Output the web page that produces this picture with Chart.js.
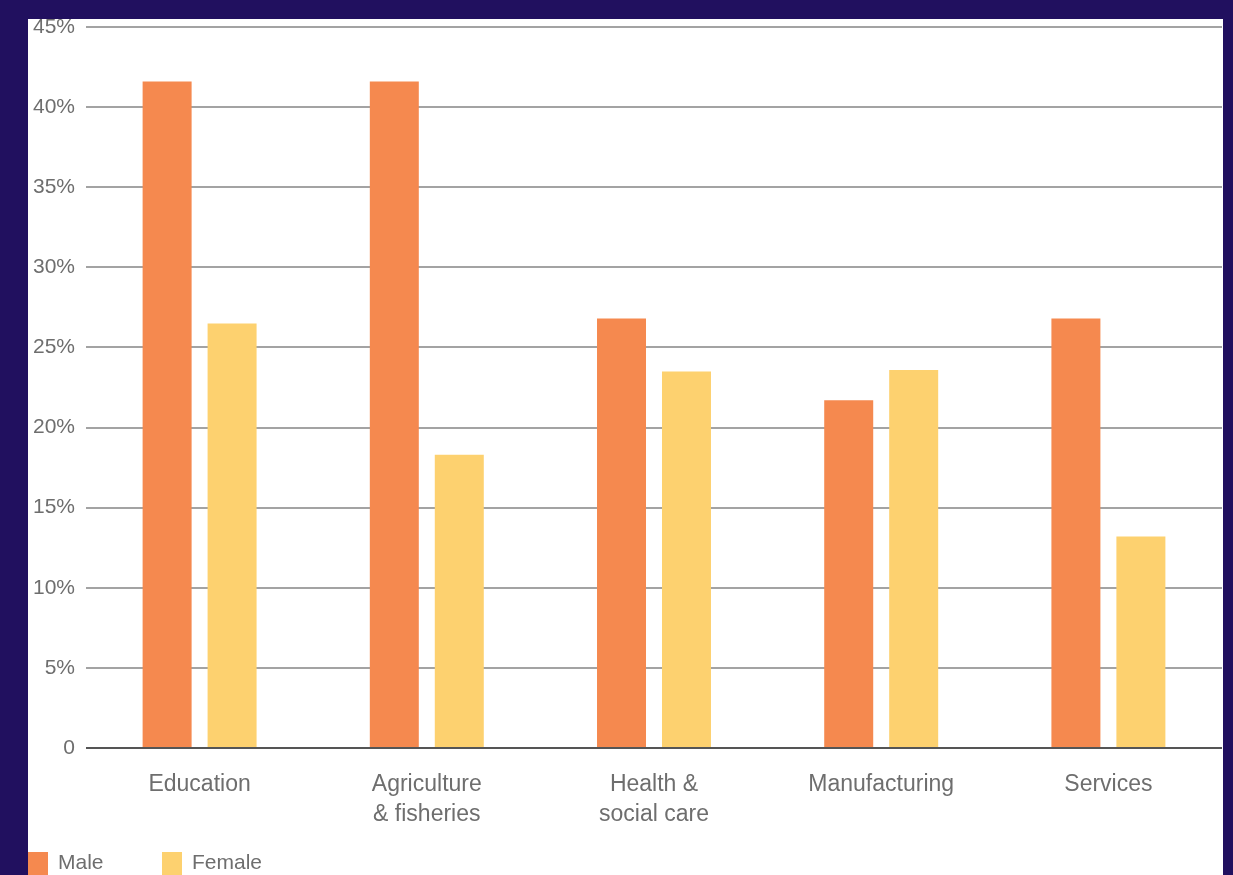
<!DOCTYPE html>
<html>
<head>
<meta charset="utf-8">
<script src="https://cdn.jsdelivr.net/npm/chart.js@4"></script>
<style>
  html, body { margin: 0; padding: 0; }
  body { width: 1233px; height: 875px; background: #21105f; position: relative; overflow: hidden; }
  #box { position: absolute; left: 28px; top: 19px; width: 1195px; height: 856px; background: #ffffff; }
</style>
</head>
<body>
<div id="box"><canvas id="chartSettori"></canvas></div>
<script>
// categorie e valori (%)
var settori = ['Education', ['Agriculture', '& fisheries'], ['Health &', 'social care'], 'Manufacturing', 'Services'];
var datiMaschi = [41.6, 41.6, 26.8, 21.7, 26.8];
var datiFemmine = [26.5, 18.3, 23.5, 23.6, 13.2];
var tickY = [0, 5, 10, 15, 20, 25, 30, 35, 40, 45];

var coloreMaschi = '#f5894f';
var coloreFemmine = '#fdd16f';
var fontBase = '"Liberation Sans", Arial, sans-serif';

// legenda disegnata a mano in basso a sinistra
var legendaBasso = {
    id: 'legendaBasso',
    afterDraw: function (chart) {
        var ctx = chart.ctx;
        var posizioni = [0, 134];
        ctx.save();
        ctx.font = '21px ' + fontBase;
        ctx.textBaseline = 'middle';
        chart.data.datasets.forEach(function (ds, i) {
            var x = posizioni[i];
            ctx.fillStyle = ds.backgroundColor;
            ctx.fillRect(x, 833, 20, 30);
            ctx.fillStyle = '#6e6e6e';
            ctx.fillText(ds.label, x + 30, 844);
        });
        ctx.restore();
    }
};

var ctxSettori = document.getElementById('chartSettori').getContext('2d');
new Chart(ctxSettori, {
    type: 'bar',
    data: {
        labels: settori,
        datasets: [
            {
                label: 'Male',
                data: datiMaschi,
                backgroundColor: coloreMaschi,
                categoryPercentage: 0.572,
                barPercentage: 0.754
            },
            {
                label: 'Female',
                data: datiFemmine,
                backgroundColor: coloreFemmine,
                categoryPercentage: 0.572,
                barPercentage: 0.754
            }
        ]
    },
    options: {
        responsive: true,
        maintainAspectRatio: false,
        animation: false,
        layout: { padding: { top: 8, right: 1, left: 0, bottom: 0 } },
        plugins: {
            legend: { display: false },
            tooltip: { enabled: false }
        },
        scales: {
            x: {
                type: 'category',
                grid: { display: false, drawTicks: false },
                border: { display: false },
                ticks: {
                    color: '#6e6e6e',
                    padding: 22,
                    maxRotation: 0,
                    autoSkip: false,
                    font: { family: fontBase, size: 23, lineHeight: 1.3 }
                },
                afterFit: function (scale) {
                    scale.height = 127;
                    scale.paddingLeft = 0;
                    scale.paddingRight = 0;
                }
            },
            y: {
                min: 0,
                max: 45,
                afterBuildTicks: function (scale) {
                    scale.ticks = tickY.map(function (v) { return { value: v }; });
                },
                grid: {
                    drawTicks: false,
                    lineWidth: 2,
                    color: function (c) { return c.tick && c.tick.value === 0 ? '#555555' : '#a3a3a3'; }
                },
                border: { display: false },
                ticks: {
                    color: '#6e6e6e',
                    padding: 11,
                    font: { family: fontBase, size: 21 },
                    callback: function (v) { return v === 0 ? '0' : v + '%'; }
                },
                afterFit: function (scale) {
                    scale.width = 58;
                    scale.paddingTop = 0;
                    scale.paddingBottom = 0;
                }
            }
        }
    },
    plugins: [legendaBasso]
});
</script>
</body>
</html>
